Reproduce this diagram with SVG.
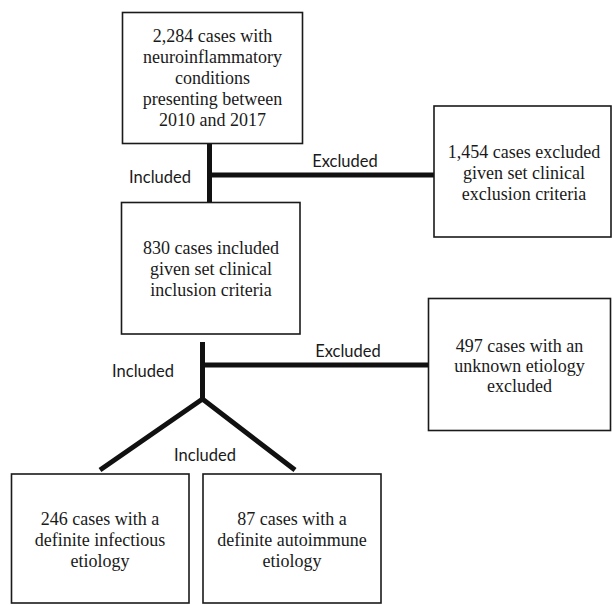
<svg xmlns="http://www.w3.org/2000/svg" width="613" height="605" viewBox="0 0 613 605">
<style>
.box{fill:#fff;stroke:#1a1a1a;stroke-width:1.6}
.t{font-family:"Liberation Serif","Times New Roman",serif;font-size:18px;fill:#1a1a1a;text-anchor:middle}
.l{font-family:Lato,"Open Sans",sans-serif;font-size:16.5px;fill:#1a1a1a;text-anchor:middle}
.c{stroke:#111;stroke-width:5;fill:none}
</style>
<rect width="613" height="605" fill="#fff"/>
<g id="connectors">
<line class="c" x1="209.5" y1="143" x2="209.5" y2="202"/>
<line class="c" x1="209.5" y1="175" x2="434" y2="175"/>
<line class="c" x1="202.5" y1="342" x2="202.5" y2="400"/>
<line class="c" x1="202.5" y1="365" x2="428" y2="365"/>
<polyline class="c" points="100,470 202.5,399 295,470" stroke-linejoin="miter"/>
<text class="l" x="160" y="183">Included</text>
<text class="l" x="345" y="167">Excluded</text>
<text class="l" x="143" y="377">Included</text>
<text class="l" x="348" y="357">Excluded</text>
<text class="l" x="205" y="461">Included</text>
</g>
<g id="n1">
<rect class="box" x="122.5" y="12.5" width="180" height="131"/>
<text class="t" x="212.5" y="42">2,284 cases with</text>
<text class="t" x="212.5" y="63">neuroinflammatory</text>
<text class="t" x="212.5" y="84">conditions</text>
<text class="t" x="212.5" y="105">presenting between</text>
<text class="t" x="212.5" y="126">2010 and 2017</text>
</g>
<g id="n2">
<rect class="box" x="434" y="106" width="177" height="131"/>
<text class="t" x="524" y="158">1,454 cases excluded</text>
<text class="t" x="524" y="179">given set clinical</text>
<text class="t" x="524" y="200">exclusion criteria</text>
</g>
<g id="n3">
<rect class="box" x="121.5" y="202.5" width="178.5" height="131.5"/>
<text class="t" x="211" y="254">830 cases included</text>
<text class="t" x="211" y="275">given set clinical</text>
<text class="t" x="211" y="296">inclusion criteria</text>
</g>
<g id="n4">
<rect class="box" x="428.5" y="298.5" width="182" height="132"/>
<text class="t" x="519.5" y="352">497 cases with an</text>
<text class="t" x="519.5" y="372">unknown etiology</text>
<text class="t" x="519.5" y="392">excluded</text>
</g>
<g id="n5">
<rect class="box" x="11.5" y="474" width="177.5" height="129"/>
<text class="t" x="100" y="525">246 cases with a</text>
<text class="t" x="100" y="546">definite infectious</text>
<text class="t" x="100" y="567">etiology</text>
</g>
<g id="n6">
<rect class="box" x="203" y="474" width="178" height="129"/>
<text class="t" x="292" y="525">87 cases with a</text>
<text class="t" x="292" y="546">definite autoimmune</text>
<text class="t" x="292" y="567">etiology</text>
</g>
</svg>
